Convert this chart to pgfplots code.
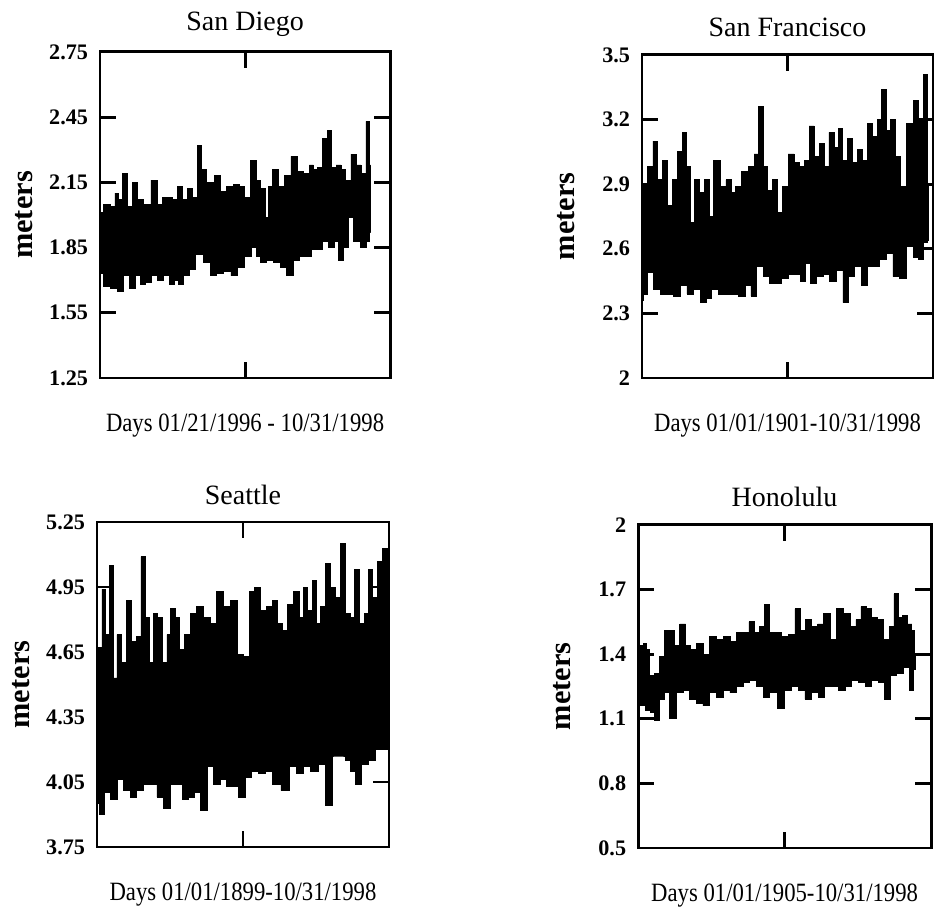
\documentclass[border=0pt]{standalone}
\usepackage{pgfplots}
\pgfplotsset{compat=1.18}
\usepackage{fontspec}
\setmainfont{Liberation Serif}
\newfontfamily\condfont[FakeStretch=0.86]{Liberation Serif}
\pgfplotsset{
  panel/.style={
    scale only axis,
    xmin=0, xmax=100,
    xtick={50}, xticklabels={},
    axis on top,
    axis line style={line width=1.1pt},
    tick style={line width=1.1pt, black},
    major tick length=6pt,
    tick align=inside,
    /pgf/number format/assume math mode=true,
    yticklabel style={font=\bfseries\fontsize{8.4}{9}\selectfont, xshift=-1pt},
    title style={font=\fontsize{10.6}{12}\selectfont, at={(axis description cs:0.5,1)}, anchor=center, yshift=4.4pt},
    xlabel style={font=\condfont\fontsize{10}{12}\selectfont, at={(axis description cs:0.5,0)}, anchor=center, yshift=-18pt},
    ylabel style={font=\bfseries\fontsize{11.5}{12}\selectfont, at={(axis description cs:-0.26,0.5)}, anchor=center, rotate=0},
    xlabel={}, ylabel={meters},
  },
  series/.style={fill=black, draw=black, line width=0.3pt, const plot mark mid},
}
\begin{document}
\begin{tikzpicture}
\useasboundingbox (0,0) rectangle (356.07pt,346.98pt);
% San Diego
\begin{axis}[panel, at={(37.88pt,203.8pt)}, anchor=south west, width=109.9pt, height=123.5pt,
  ymin=1.25, ymax=2.75, ytick={1.25,1.55,1.85,2.15,2.45,2.75},
  yticklabels={1.25,1.55,1.85,2.15,2.45,2.75},
  title={San Diego}, xlabel={Days 01/21/1996 - 10/31/1998}]
\addplot[series] coordinates {
(0,2.01) (2.3,2.05) (4.6,2.04) (5.7,2.10) (6.9,2.07) (8.6,2.19) (10.3,2.04) (12.1,2.15) (13.8,2.07) (16.1,2.05) (19.0,2.16) (20.7,2.05) (22.4,2.08) (24.1,2.08) (25.9,2.07) (27.6,2.13) (29.3,2.07) (31.0,2.12) (32.8,2.08) (34.3,2.32) (35.6,2.21) (37.9,2.15) (40.8,2.18) (42.5,2.11) (44.8,2.13) (47.1,2.14) (48.9,2.13) (50.6,2.08) (52.9,2.25) (54.6,2.16) (56.3,2.12) (57.5,1.99) (58.6,2.13) (60.3,2.21) (62.6,2.13) (64.4,2.18) (67.2,2.27) (69.0,2.20) (71.3,2.19) (73.0,2.23) (74.1,2.21) (75.9,2.22) (77.6,2.35) (79.3,2.39) (80.5,2.22) (82.2,2.23) (83.9,2.21) (85.6,2.16) (87.4,2.28) (89.1,2.23) (90.8,2.19) (92.5,2.43) (93.3,2.23)
(93.3,1.92) (92.5,1.88) (90.8,1.85) (88.5,1.88) (86.2,1.99) (85.1,1.85) (82.8,1.79) (81.6,1.88) (79.9,1.85) (77.6,1.88) (75.9,1.84) (73.6,1.84) (71.8,1.81) (69.5,1.81) (67.8,1.79) (65.5,1.72) (63.2,1.76) (60.9,1.78) (58.6,1.79) (56.3,1.78) (54.6,1.81) (53.4,1.85) (51.1,1.81) (48.3,1.76) (46.6,1.72) (43.7,1.74) (41.4,1.73) (39.1,1.72) (36.8,1.78) (34.5,1.82) (31.6,1.75) (29.9,1.72) (27.6,1.68) (26.4,1.70) (24.7,1.68) (23.0,1.72) (20.7,1.70) (19.0,1.72) (16.7,1.69) (14.9,1.68) (13.2,1.72) (10.9,1.66) (9.2,1.72) (6.9,1.65) (5.2,1.66) (2.3,1.67) (0,1.73)
};
\end{axis}
% San Francisco
\begin{axis}[panel, at={(243.2pt,203.8pt)}, anchor=south west, width=110.2pt, height=122.4pt,
  ymin=2, ymax=3.5, ytick={2,2.3,2.6,2.9,3.2,3.5},
  yticklabels={2,2.3,2.6,2.9,3.2,3.5},
  title={San Francisco}, xlabel={Days 01/01/1901-10/31/1998}]
\addplot[series] coordinates {
(0,2.73) (1.1,2.89) (2.9,2.98) (4.6,3.10) (6.3,2.92) (8.0,3.01) (9.7,2.80) (11.4,2.92) (13.1,3.05) (14.5,3.14) (16.0,2.98) (17.1,2.72) (18.9,2.92) (20.6,2.86) (22.3,2.92) (23.7,2.75) (25.7,3.01) (28.0,2.89) (29.7,2.92) (31.4,2.86) (33.1,2.89) (35.4,2.96) (37.7,2.98) (39.4,3.04) (40.8,3.26) (42.3,2.98) (44.0,2.87) (45.7,2.92) (47.4,2.77) (49.1,2.89) (51.4,3.04) (53.1,3.00) (54.9,2.98) (56.6,3.01) (58.3,3.17) (60.0,3.03) (61.7,3.09) (63.4,2.98) (65.1,3.14) (66.9,3.07) (68.0,3.16) (69.7,3.01) (71.4,3.11) (73.1,3.00) (74.9,3.06) (76.6,3.01) (78.1,3.18) (80.0,3.12) (81.7,3.20) (83.1,3.34) (84.6,3.15) (86.3,3.20) (88.0,3.03) (89.7,2.89) (92.0,3.18) (94.3,3.29) (96.0,3.20) (97.7,3.41) (98.6,2.89)
(98.6,2.64) (97.7,2.63) (96.0,2.55) (94.3,2.56) (92.0,2.61) (89.7,2.46) (87.4,2.47) (85.1,2.58) (82.9,2.55) (80.6,2.52) (78.3,2.52) (76.6,2.43) (74.3,2.52) (72.0,2.47) (70.1,2.35) (68.0,2.50) (65.7,2.45) (63.4,2.48) (61.1,2.47) (58.9,2.44) (57.1,2.53) (55.4,2.45) (53.7,2.48) (51.4,2.48) (49.1,2.46) (46.9,2.44) (44.6,2.44) (42.9,2.47) (40.6,2.52) (38.3,2.38) (36.6,2.43) (34.3,2.38) (32.0,2.39) (29.7,2.39) (27.4,2.39) (25.1,2.41) (22.9,2.37) (21.1,2.35) (18.9,2.41) (16.6,2.39) (14.3,2.43) (12.0,2.38) (9.7,2.39) (7.4,2.39) (5.1,2.41) (2.9,2.49) (1.1,2.39) (0,2.36)
};
\end{axis}
% Seattle
\begin{axis}[panel, at={(36.74pt,26.14pt)}, anchor=south west, width=110.6pt, height=123.1pt,
  ymin=3.75, ymax=5.25, ytick={3.75,4.05,4.35,4.65,4.95,5.25},
  yticklabels={3.75,4.05,4.35,4.65,4.95,5.25},
  title={Seattle}, xlabel={Days 01/01/1899-10/31/1998}]
\addplot[series] coordinates {
(0,4.53) (1.1,4.67) (2.3,4.94) (3.6,4.73) (5.1,5.05) (6.3,4.53) (7.4,4.73) (9.1,4.60) (10.8,4.89) (12.5,4.70) (14.3,4.72) (15.8,5.09) (17.1,4.81) (18.8,4.60) (20.0,4.83) (21.7,4.81) (23.4,4.60) (24.5,4.73) (26.0,4.85) (27.4,4.81) (29.1,4.66) (30.8,4.73) (33.1,4.83) (35.3,4.86) (37.6,4.81) (39.9,4.78) (42.2,4.93) (44.5,4.86) (46.8,4.89) (49.1,4.64) (51.3,4.63) (53.0,4.93) (55.0,4.95) (57.0,4.84) (59.3,4.86) (61.0,4.89) (62.7,4.78) (64.4,4.75) (66.1,4.87) (68.4,4.93) (70.1,4.81) (71.3,4.95) (73.0,4.84) (74.3,4.98) (75.8,4.78) (77.5,4.86) (79.2,5.06) (80.7,4.95) (82.3,4.90) (84.3,5.15) (86.0,4.83) (87.5,4.81) (88.9,5.03) (90.6,4.78) (92.4,4.83) (93.7,5.03) (95.2,4.90) (96.9,5.07) (98.6,5.13) (100,5.06)
(100,4.23) (98.6,4.20) (96.4,4.20) (94.1,4.15) (91.8,4.13) (89.5,4.04) (87.8,4.10) (86.1,4.15) (83.8,4.17) (81.5,4.17) (79.6,3.94) (77.0,4.13) (74.7,4.10) (71.8,4.12) (69.6,4.09) (67.3,4.12) (64.4,4.01) (61.6,4.04) (58.7,4.10) (56.4,4.09) (54.2,4.10) (51.9,4.07) (49.6,3.98) (47.3,4.03) (45.6,4.03) (43.3,4.06) (41.0,4.04) (38.8,4.12) (36.5,3.92) (34.2,4.00) (32.5,3.98) (30.2,3.97) (28.5,4.04) (26.2,4.04) (23.9,3.93) (21.7,3.98) (19.4,4.04) (17.1,4.04) (14.8,4.01) (12.5,3.98) (10.3,4.01) (8.0,4.06) (5.7,3.97) (3.4,4.00) (1.7,3.90) (0,3.95)
};
\end{axis}
% Honolulu
\begin{axis}[panel, at={(241.7pt,25.76pt)}, anchor=south west, width=111.0pt, height=122.4pt,
  ymin=0.5, ymax=2, ytick={0.5,0.8,1.1,1.4,1.7,2},
  yticklabels={0.5,0.8,1.1,1.4,1.7,2},
  title={Honolulu}, xlabel={Days 01/01/1905-10/31/1998}]
\addplot[series] coordinates {
(0,1.39) (1.1,1.44) (2.3,1.45) (3.4,1.42) (4.6,1.30) (6.3,1.31) (8.0,1.39) (9.7,1.51) (11.4,1.51) (13.1,1.44) (15.4,1.54) (17.1,1.44) (18.8,1.42) (21.1,1.45) (23.3,1.40) (25.6,1.48) (27.9,1.47) (30.2,1.48) (32.5,1.46) (34.7,1.50) (37.0,1.50) (38.7,1.55) (40.5,1.50) (42.2,1.53) (43.8,1.63) (45.6,1.50) (47.8,1.50) (50.1,1.48) (52.4,1.49) (54.7,1.61) (56.4,1.51) (58.1,1.56) (60.4,1.53) (62.1,1.54) (64.4,1.59) (66.6,1.47) (68.9,1.61) (71.2,1.59) (73.5,1.53) (75.2,1.56) (76.9,1.62) (78.6,1.61) (80.4,1.57) (82.6,1.56) (84.9,1.47) (86.6,1.53) (88.0,1.68) (89.5,1.57) (91.1,1.58) (92.8,1.54) (94.0,1.51) (94.5,1.39)
(94.5,1.33) (93.4,1.23) (91.8,1.34) (89.5,1.31) (87.1,1.30) (85.1,1.19) (83.1,1.27) (80.9,1.28) (78.6,1.25) (76.3,1.27) (74.0,1.28) (71.8,1.25) (69.5,1.23) (67.2,1.25) (64.9,1.25) (62.6,1.20) (60.4,1.22) (58.1,1.19) (55.8,1.23) (53.6,1.25) (51.3,1.23) (48.9,1.15) (46.1,1.22) (43.8,1.20) (41.6,1.25) (39.3,1.28) (37.0,1.27) (34.7,1.25) (32.5,1.22) (30.2,1.23) (27.9,1.20) (25.6,1.22) (23.3,1.16) (21.0,1.17) (18.8,1.19) (16.5,1.23) (14.2,1.22) (11.9,1.10) (9.7,1.22) (8.0,1.19) (6.3,1.09) (5.1,1.13) (3.4,1.14) (1.7,1.16) (0,1.17)
};
\end{axis}
\end{tikzpicture}
\end{document}
